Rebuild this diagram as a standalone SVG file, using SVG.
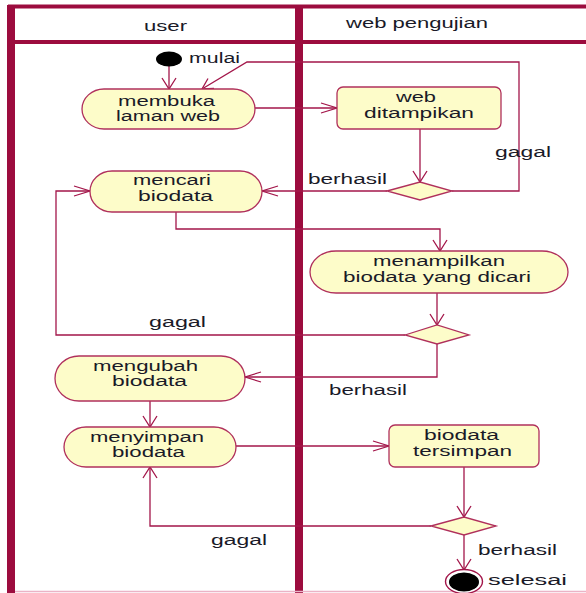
<svg xmlns="http://www.w3.org/2000/svg" xmlns:xlink="http://www.w3.org/1999/xlink" width="586" height="593" viewBox="0 0 586 593">
  <style>
    .lane { fill: #9c0c3e; }
    .act { fill: #fdfcc9; stroke: #b0305c; stroke-width: 1.3; }
    .dec { fill: #fdfcc9; stroke: #b0305c; stroke-width: 1.3; }
    .flow { fill: none; stroke: #a3164a; stroke-width: 1.3; }
    .t { font-family: "Liberation Sans", Arial, sans-serif; font-size: 14px; fill: #1a1a28; }
  </style>
  <defs>
    <!-- open arrowheads, tip at origin -->
    <path id="hd" class="flow" d="M-7,-11 L0,0 L7,-11"/>
    <path id="hu" class="flow" d="M-7,11 L0,0 L7,11"/>
    <path id="hr" class="flow" d="M-16,-5 L0,0 L-16,5"/>
    <path id="hl" class="flow" d="M16,-5 L0,0 L16,5"/>
  </defs>

  <rect width="586" height="593" fill="#ffffff"/>

  <!-- swimlane frame -->
  <g id="swimlanes">
    <rect class="lane" x="8" y="4.5" width="578" height="4"/>
    <rect class="lane" x="15" y="40" width="571" height="4"/>
    <rect class="lane" x="7" y="5" width="8" height="588"/>
    <rect class="lane" x="295" y="5" width="8" height="588"/>
    <line x1="15" y1="591.5" x2="586" y2="591.5" stroke="#ebb3c6" stroke-width="1.5"/>
    <text class="t" x="144" y="31" textLength="43" lengthAdjust="spacingAndGlyphs">user</text>
    <text class="t" x="346" y="27.5" textLength="142" lengthAdjust="spacingAndGlyphs">web pengujian</text>
  </g>

  <!-- control flows -->
  <g id="connectors">
    <line class="flow" x1="169" y1="66" x2="169" y2="89"/>
    <use xlink:href="#hd" x="169" y="89"/>

    <polyline class="flow" points="452,191 519,191 519,62 247,62 202,89"/>
    <path class="flow" d="M208,78.5 L202,89 L214,88.5"/>

    <line class="flow" x1="255" y1="108" x2="337" y2="108"/>
    <use xlink:href="#hr" x="337" y="108"/>

    <line class="flow" x1="420" y1="129" x2="420" y2="182"/>
    <use xlink:href="#hd" x="420" y="182"/>

    <line class="flow" x1="387" y1="191" x2="262" y2="191"/>
    <use xlink:href="#hl" x="262" y="191"/>

    <polyline class="flow" points="405,335 56,335 56,191 90,191"/>
    <use xlink:href="#hr" x="90" y="191"/>

    <polyline class="flow" points="176,212 176,229 440,229 440,251"/>
    <use xlink:href="#hd" x="440" y="251"/>

    <line class="flow" x1="437" y1="293" x2="437" y2="325"/>
    <use xlink:href="#hd" x="437" y="325"/>

    <polyline class="flow" points="437,344 437,377 245,377"/>
    <use xlink:href="#hl" x="245" y="377"/>

    <line class="flow" x1="150" y1="401" x2="150" y2="427"/>
    <use xlink:href="#hd" x="150" y="427"/>

    <line class="flow" x1="236" y1="446" x2="389" y2="446"/>
    <use xlink:href="#hr" x="389" y="446"/>

    <line class="flow" x1="464" y1="467" x2="464" y2="517"/>
    <use xlink:href="#hd" x="464" y="517"/>

    <polyline class="flow" points="431,526 150,526 150,467"/>
    <use xlink:href="#hu" x="150" y="467"/>

    <line class="flow" x1="464" y1="535" x2="464" y2="570"/>
    <use xlink:href="#hd" x="464" y="570"/>

    <!-- guard labels -->
    <text class="t" x="495" y="156.5" textLength="56" lengthAdjust="spacingAndGlyphs">gagal</text>
    <text class="t" x="308" y="183.5" textLength="79" lengthAdjust="spacingAndGlyphs">berhasil</text>
    <text class="t" x="149" y="327" textLength="57" lengthAdjust="spacingAndGlyphs">gagal</text>
    <text class="t" x="329" y="395" textLength="78" lengthAdjust="spacingAndGlyphs">berhasil</text>
    <text class="t" x="211" y="545" textLength="56" lengthAdjust="spacingAndGlyphs">gagal</text>
    <text class="t" x="478" y="555" textLength="79" lengthAdjust="spacingAndGlyphs">berhasil</text>
  </g>

  <g id="start">
    <ellipse cx="169" cy="59" rx="13" ry="7.5" fill="#000000"/>
    <text class="t" x="189" y="63" textLength="51" lengthAdjust="spacingAndGlyphs">mulai</text>
  </g>

  <g id="membuka-laman-web">
    <rect class="act" x="82" y="89" width="173" height="40" rx="22" ry="20"/>
    <text class="t" x="118" y="106" textLength="97" lengthAdjust="spacingAndGlyphs">membuka</text>
    <text class="t" x="116" y="120.5" textLength="104" lengthAdjust="spacingAndGlyphs">laman web</text>
  </g>

  <g id="web-ditampikan">
    <rect class="act" x="337" y="87" width="164" height="42" rx="6" ry="6"/>
    <text class="t" x="396" y="102" textLength="40" lengthAdjust="spacingAndGlyphs">web</text>
    <text class="t" x="364" y="117.5" textLength="110" lengthAdjust="spacingAndGlyphs">ditampikan</text>
  </g>

  <g id="cek-web">
    <polygon class="dec" points="387,191 420,182 452,191 420,200"/>
  </g>

  <g id="mencari-biodata">
    <rect class="act" x="90" y="171" width="172" height="41" rx="22" ry="20.5"/>
    <text class="t" x="133" y="185" textLength="78" lengthAdjust="spacingAndGlyphs">mencari</text>
    <text class="t" x="138" y="200.5" textLength="75" lengthAdjust="spacingAndGlyphs">biodata</text>
  </g>

  <g id="menampilkan-biodata">
    <rect class="act" x="310" y="251" width="258" height="42" rx="26" ry="21"/>
    <text class="t" x="373" y="265.5" textLength="132" lengthAdjust="spacingAndGlyphs">menampilkan</text>
    <text class="t" x="343" y="281.5" textLength="188" lengthAdjust="spacingAndGlyphs">biodata yang dicari</text>
  </g>

  <g id="cek-biodata">
    <polygon class="dec" points="405,335 437,325 469,335 437,344"/>
  </g>

  <g id="mengubah-biodata">
    <rect class="act" x="55" y="356" width="190" height="45" rx="24" ry="22.5"/>
    <text class="t" x="93" y="371" textLength="105" lengthAdjust="spacingAndGlyphs">mengubah</text>
    <text class="t" x="112" y="386" textLength="75" lengthAdjust="spacingAndGlyphs">biodata</text>
  </g>

  <g id="menyimpan-biodata">
    <rect class="act" x="64" y="427" width="172" height="40" rx="22" ry="20"/>
    <text class="t" x="90" y="442" textLength="114" lengthAdjust="spacingAndGlyphs">menyimpan</text>
    <text class="t" x="112" y="456.5" textLength="73" lengthAdjust="spacingAndGlyphs">biodata</text>
  </g>

  <g id="biodata-tersimpan">
    <rect class="act" x="389" y="425" width="150" height="42" rx="6" ry="6"/>
    <text class="t" x="424" y="439.5" textLength="75" lengthAdjust="spacingAndGlyphs">biodata</text>
    <text class="t" x="413" y="455.5" textLength="99" lengthAdjust="spacingAndGlyphs">tersimpan</text>
  </g>

  <g id="cek-simpan">
    <polygon class="dec" points="431,526 464,517 496,526 464,535"/>
  </g>

  <g id="end">
    <ellipse cx="464" cy="581.5" rx="18.5" ry="12" fill="#ffffff" stroke="#a3164a" stroke-width="1.4"/>
    <ellipse cx="464" cy="582" rx="15" ry="9.5" fill="#000000"/>
    <text class="t" x="488" y="585" textLength="79" lengthAdjust="spacingAndGlyphs">selesai</text>
  </g>
</svg>
